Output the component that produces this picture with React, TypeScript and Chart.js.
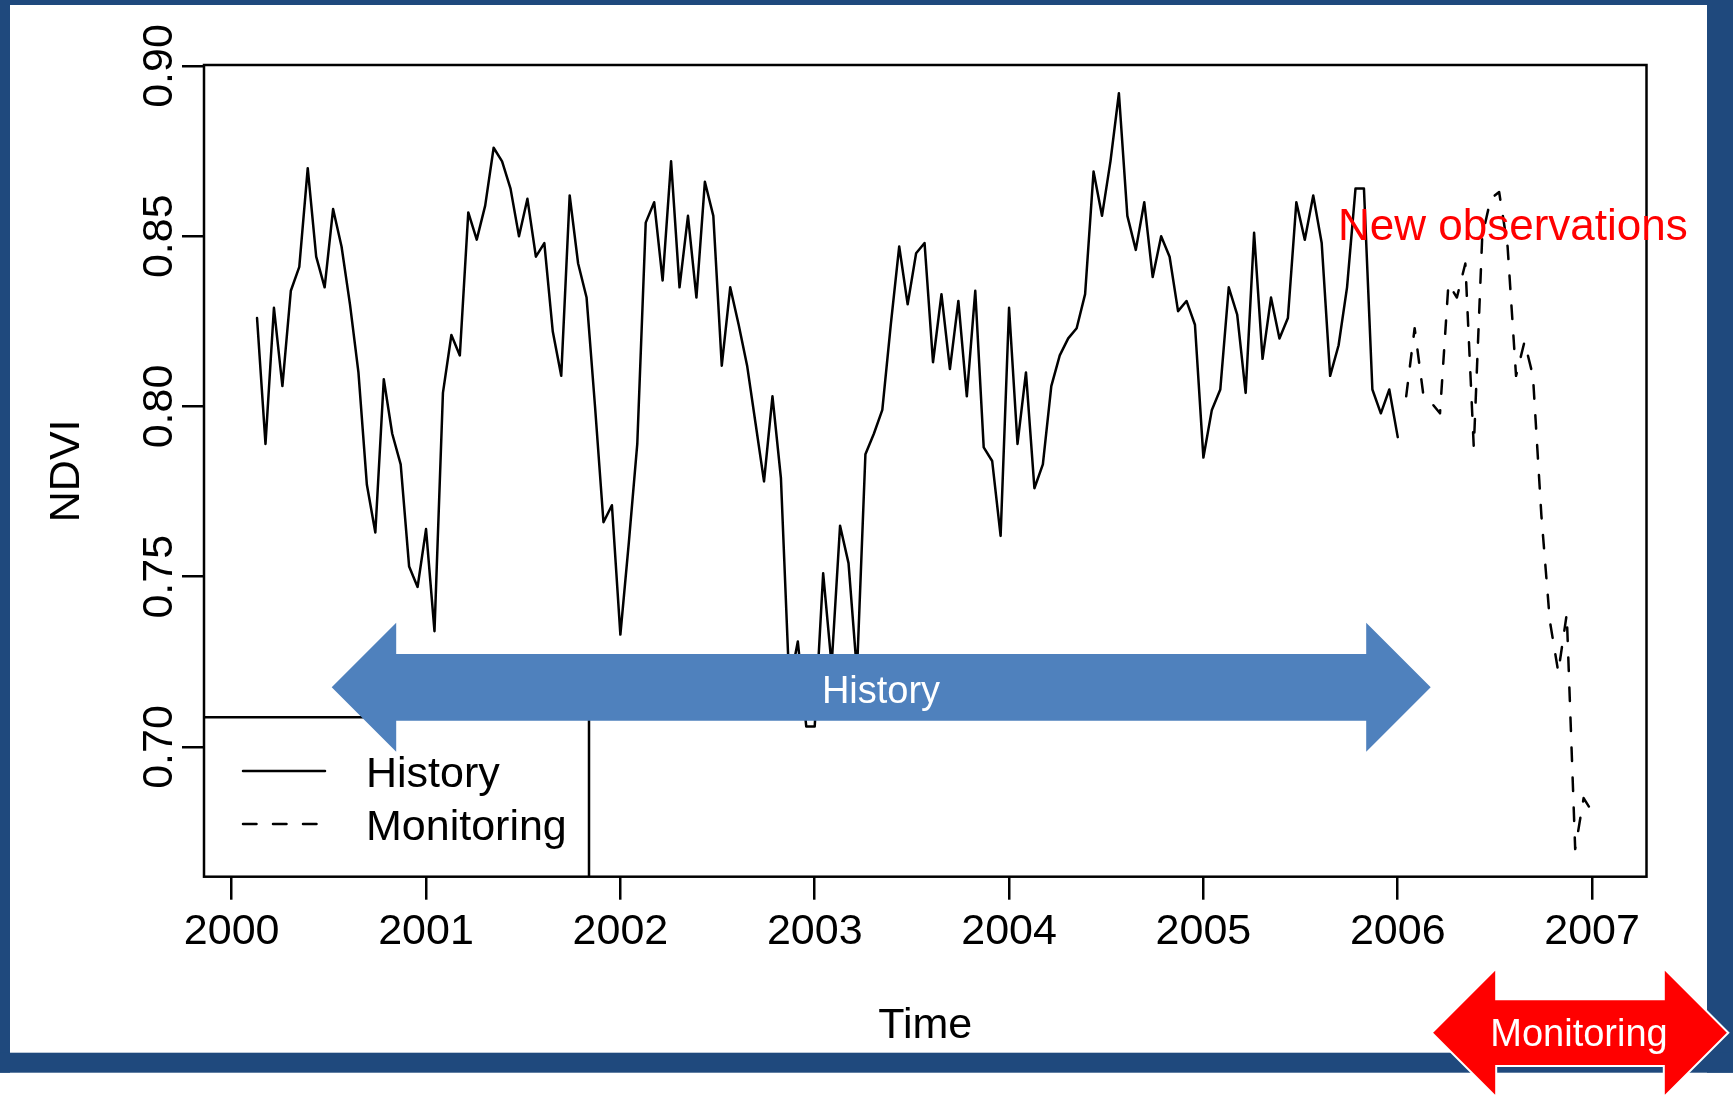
import React, { useEffect, useRef } from "react";
import { Chart, registerables } from "chart.js";

Chart.register(...registerables);

// ---- data (16-day MODIS NDVI composites, 23 per year) ----
const START_YEAR = 2000;
const START_PERIOD = 4; // first composite in the series
const FREQ = 23;

const HISTORY_NDVI = [
  0.826, 0.789, 0.829, 0.806, 0.834, 0.841, 0.870, 0.844, 0.835, 0.858,
  0.847, 0.830, 0.810, 0.777, 0.763, 0.808, 0.792, 0.783, 0.753, 0.747,
  0.764, 0.734, 0.804, 0.821, 0.815, 0.857, 0.849, 0.859, 0.876, 0.872,
  0.864, 0.850, 0.861, 0.844, 0.848, 0.822, 0.809, 0.862, 0.842, 0.832,
  0.800, 0.766, 0.771, 0.733, 0.760, 0.789, 0.854, 0.860, 0.837, 0.872,
  0.835, 0.856, 0.832, 0.866, 0.856, 0.812, 0.835, 0.824, 0.812, 0.795,
  0.778, 0.803, 0.779, 0.718, 0.731, 0.706, 0.706, 0.751, 0.724, 0.765,
  0.754, 0.722, 0.786, 0.792, 0.799, 0.824, 0.847, 0.830, 0.845, 0.848,
  0.813, 0.833, 0.811, 0.831, 0.803, 0.834, 0.788, 0.784, 0.762, 0.829,
  0.789, 0.810, 0.776, 0.783, 0.806, 0.815, 0.820, 0.823, 0.833, 0.869,
  0.856, 0.872, 0.892, 0.856, 0.846, 0.860, 0.838, 0.850, 0.844, 0.828,
  0.831, 0.824, 0.785, 0.799, 0.805, 0.835, 0.827, 0.804, 0.851, 0.814,
  0.832, 0.820, 0.826, 0.860, 0.849, 0.862, 0.848, 0.809, 0.818, 0.835,
  0.864, 0.864, 0.805, 0.798, 0.805, 0.791,
];

const MONITOR_NDVI = [
  0.803, 0.823, 0.804, 0.801, 0.798, 0.836, 0.832, 0.842, 0.788, 0.850,
  0.861, 0.863, 0.847, 0.809, 0.819, 0.809, 0.768, 0.737, 0.722, 0.739,
  0.670, 0.685, 0.681,
];

const X_TICKS = [2000, 2001, 2002, 2003, 2004, 2005, 2006, 2007];
const X_TICK_LABELS = ["2000", "2001", "2002", "2003", "2004", "2005", "2006", "2007"];
const Y_TICKS = [0.7, 0.75, 0.8, 0.85, 0.9];
const Y_TICK_LABELS = ["0.70", "0.75", "0.80", "0.85", "0.90"];
const LEGEND_LABELS = ["History", "Monitoring"];

const X_MIN = 1999.8575;
const X_MAX = 2007.28;
const Y_MIN = 0.6619;
const Y_MAX = 0.9003;

const FONT = '"Liberation Sans", Arial, sans-serif';
const FRAME_BLUE = "#1F497D";
const ARROW_BLUE = "#4F81BD";
const RED = "#FF0000";
const LINE_W = 2.5;
const DASH = [13.5, 16.5];

const timeOf = (i: number) => START_YEAR + (START_PERIOD - 1 + i) / FREQ;

function drawDoubleArrow(
  ctx: CanvasRenderingContext2D,
  x1: number,
  x2: number,
  cy: number,
  headLen: number,
  headHalf: number,
  bodyHalf: number,
  fill: string,
  stroke: string | null
) {
  ctx.beginPath();
  ctx.moveTo(x1, cy);
  ctx.lineTo(x1 + headLen, cy - headHalf);
  ctx.lineTo(x1 + headLen, cy - bodyHalf);
  ctx.lineTo(x2 - headLen, cy - bodyHalf);
  ctx.lineTo(x2 - headLen, cy - headHalf);
  ctx.lineTo(x2, cy);
  ctx.lineTo(x2 - headLen, cy + headHalf);
  ctx.lineTo(x2 - headLen, cy + bodyHalf);
  ctx.lineTo(x1 + headLen, cy + bodyHalf);
  ctx.lineTo(x1 + headLen, cy + headHalf);
  ctx.closePath();
  ctx.fillStyle = fill;
  ctx.fill();
  if (stroke) {
    ctx.strokeStyle = stroke;
    ctx.lineWidth = 2;
    ctx.lineJoin = "miter";
    ctx.stroke();
  }
}

const decorPlugin = {
  id: "decor",
  beforeDraw(chart: any) {
    const ctx: CanvasRenderingContext2D = chart.ctx;
    const W = chart.width;
    const H = chart.height;
    ctx.save();
    ctx.fillStyle = "#ffffff";
    ctx.fillRect(0, 0, W, H);
    // slide frame
    ctx.fillStyle = FRAME_BLUE;
    ctx.fillRect(0, 0, W, 5);
    ctx.fillRect(0, 0, 10, 1072.7);
    ctx.fillRect(1707, 0, W - 1707, 1072.7);
    ctx.fillRect(0, 1052.7, W, 20);
    ctx.restore();
  },
  afterDraw(chart: any) {
    const ctx: CanvasRenderingContext2D = chart.ctx;
    const area = chart.chartArea;
    const xs = chart.scales.x;
    const ys = chart.scales.y;
    ctx.save();

    // plot box
    ctx.strokeStyle = "#000";
    ctx.lineWidth = LINE_W;
    ctx.lineJoin = "miter";
    ctx.strokeRect(area.left, area.top, area.right - area.left, area.bottom - area.top);

    // tick labels
    ctx.fillStyle = "#000";
    ctx.font = `43px ${FONT}`;
    ctx.textAlign = "center";
    ctx.textBaseline = "alphabetic";
    X_TICKS.forEach((v, k) => {
      ctx.fillText(X_TICK_LABELS[k], xs.getPixelForValue(v), 943.5);
    });
    Y_TICKS.forEach((v, k) => {
      ctx.save();
      ctx.translate(171.5, ys.getPixelForValue(v));
      ctx.rotate(-Math.PI / 2);
      ctx.fillText(Y_TICK_LABELS[k], 0, 0);
      ctx.restore();
    });

    // axis titles
    ctx.fillText("Time", (area.left + area.right) / 2, 1038);
    ctx.save();
    ctx.translate(79, (area.top + area.bottom) / 2);
    ctx.rotate(-Math.PI / 2);
    ctx.fillText("NDVI", 0, 0);
    ctx.restore();

    // legend box
    ctx.beginPath();
    ctx.moveTo(area.left, 717.3);
    ctx.lineTo(589, 717.3);
    ctx.lineTo(589, area.bottom);
    ctx.lineWidth = LINE_W;
    ctx.stroke();
    ctx.lineCap = "round";
    ctx.beginPath();
    ctx.moveTo(243, 771);
    ctx.lineTo(325, 771);
    ctx.stroke();
    ctx.setLineDash(DASH);
    ctx.beginPath();
    ctx.moveTo(243, 824);
    ctx.lineTo(323, 824);
    ctx.stroke();
    ctx.setLineDash([]);
    ctx.textAlign = "left";
    ctx.fillText(LEGEND_LABELS[0], 366, 786.5);
    ctx.fillText(LEGEND_LABELS[1], 366, 840);

    // history arrow
    drawDoubleArrow(ctx, 331.7, 1430.7, 687.3, 64.5, 64.5, 33.4, ARROW_BLUE, null);
    ctx.fillStyle = "#ffffff";
    ctx.font = `38px ${FONT}`;
    ctx.textAlign = "center";
    ctx.fillText("History", 881, 702.5);

    // monitoring arrow
    drawDoubleArrow(ctx, 1431.7, 1728.3, 1032.7, 64.5, 64.5, 33.4, RED, "#ffffff");
    ctx.fillStyle = "#ffffff";
    ctx.fillText("Monitoring", 1579, 1046);

    // annotation
    ctx.fillStyle = RED;
    ctx.font = `44px ${FONT}`;
    ctx.textAlign = "left";
    ctx.fillText("New observations", 1338, 240);

    ctx.restore();
  },
};

export default function App() {
  const ref = useRef<HTMLCanvasElement | null>(null);

  useEffect(() => {
    if (!ref.current) return;
    const history = HISTORY_NDVI.map((v, i) => ({ x: timeOf(i), y: v }));
    const monitor = MONITOR_NDVI.map((v, i) => ({ x: timeOf(HISTORY_NDVI.length + i), y: v }));

    const chart = new Chart(ref.current, {
      type: "line",
      data: {
        datasets: [
          {
            label: LEGEND_LABELS[0],
            data: history,
            borderColor: "#000",
            borderWidth: LINE_W,
            pointRadius: 0,
            tension: 0,
            borderJoinStyle: "round",
            borderCapStyle: "round",
            fill: false,
          },
          {
            label: LEGEND_LABELS[1],
            data: monitor,
            borderColor: "#000",
            borderWidth: LINE_W,
            borderDash: DASH,
            pointRadius: 0,
            tension: 0,
            borderJoinStyle: "round",
            borderCapStyle: "round",
            fill: false,
          },
        ],
      },
      options: {
        responsive: false,
        devicePixelRatio: 1,
        animation: false,
        events: [],
        layout: { padding: { left: 0, top: 65, right: 86.5, bottom: 0 } },
        plugins: {
          legend: { display: false },
          tooltip: { enabled: false },
          title: { display: false },
        },
        scales: {
          x: {
            type: "linear",
            position: "bottom",
            min: X_MIN,
            max: X_MAX,
            afterBuildTicks: (s: any) => {
              s.ticks = X_TICKS.map((v) => ({ value: v }));
            },
            afterFit: (s: any) => {
              s.height = 218.3;
            },
            ticks: { display: false },
            grid: {
              drawOnChartArea: false,
              drawTicks: true,
              tickLength: 23,
              color: "#000",
              lineWidth: LINE_W,
            },
            border: { display: false },
          },
          y: {
            type: "linear",
            position: "left",
            min: Y_MIN,
            max: Y_MAX,
            afterBuildTicks: (s: any) => {
              s.ticks = Y_TICKS.map((v) => ({ value: v }));
            },
            afterFit: (s: any) => {
              s.width = 204;
            },
            ticks: { display: false },
            grid: {
              drawOnChartArea: false,
              drawTicks: true,
              tickLength: 22,
              color: "#000",
              lineWidth: LINE_W,
            },
            border: { display: false },
          },
        },
      } as any,
      plugins: [decorPlugin],
    });
    return () => chart.destroy();
  }, []);

  return (
    <div style={{ position: "fixed", left: 0, top: 0, width: 1733, height: 1095, background: "#fff" }}>
      <canvas ref={ref} width={1733} height={1095} style={{ width: 1733, height: 1095, display: "block" }} />
    </div>
  );
}
